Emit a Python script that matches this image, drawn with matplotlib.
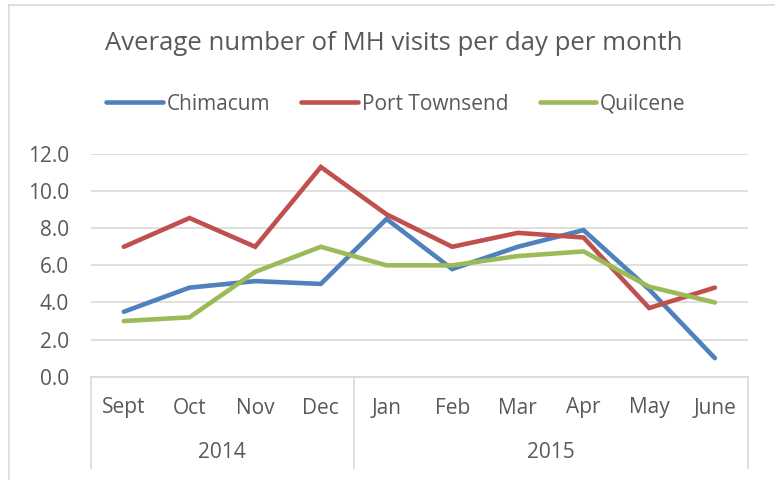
import matplotlib
matplotlib.use("Agg")
import matplotlib.pyplot as plt
from matplotlib.lines import Line2D
from matplotlib import transforms

months = ["Sept", "Oct", "Nov", "Dec", "Jan", "Feb", "Mar", "Apr", "May", "June"]
years = ["2014", "2015"]
year_spans = [(0, 3), (4, 9)]
chimacum = [3.5, 4.8, 5.15, 5.0, 8.5, 5.8, 7.0, 7.9, 4.7, 1.0]
port_townsend = [7.0, 8.55, 7.0, 11.3, 8.75, 7.0, 7.75, 7.5, 3.7, 4.8]
quilcene = [3.0, 3.2, 5.65, 7.0, 6.0, 6.0, 6.5, 6.75, 4.85, 4.0]
series_names = ["Chimacum", "Port Townsend", "Quilcene"]
series_colors = ["#4f81bd", "#c0504d", "#9bbb59"]
title = "Average number of MH visits per day per month"

plt.rcParams["font.family"] = ["Open Sans", "DejaVu Sans"]
TXT = "#595959"
GRID = "#d9d9d9"

W, H = 775, 480
fig = plt.figure(figsize=(W / 100, H / 100), dpi=100)
left, right, bottom, top = 91, 747.7, 376.7, 154
ax = fig.add_axes([left / W, 1 - bottom / H, (right - left) / W, (bottom - top) / H])

x = list(range(len(months)))
for vals, name, col in zip([chimacum, port_townsend, quilcene], series_names, series_colors):
    ax.plot(x, vals, color=col, lw=3.3, label=name, solid_joinstyle="miter", solid_capstyle="round")

ax.set_xlim(-0.5, len(months) - 0.5)
ax.set_ylim(0, 12)
ax.set_yticks([0, 2, 4, 6, 8, 10, 12])
ax.set_yticklabels([f"{v:.1f}" for v in [0, 2, 4, 6, 8, 10, 12]])
ax.tick_params(axis="y", length=0, pad=16, labelsize=15, labelcolor=TXT)
ax.set_xticks([])
ax.grid(axis="y", color=GRID, lw=1.2)
ax.set_axisbelow(True)
for s in ["left", "right", "top"]:
    ax.spines[s].set_visible(False)
ax.spines["bottom"].set_color(GRID)
ax.spines["bottom"].set_linewidth(1.2)

ah = bottom - top
trans = transforms.blended_transform_factory(ax.transData, ax.transAxes)
for i, m in enumerate(months):
    ax.text(i, (bottom - 408) / ah, m, transform=trans, ha="center", va="center",
            fontsize=15, color=TXT)
for yl, (a, b) in zip(years, year_spans):
    ax.text((a + b) / 2, (bottom - 453) / ah, yl, transform=trans, ha="center", va="center",
            fontsize=15, color=TXT)
sep_bot = (bottom - 468) / ah
for xs in [-0.5, 3.5, len(months) - 0.5]:
    ax.add_line(Line2D([xs, xs], [0, sep_bot], transform=trans, color=GRID, lw=1.2, clip_on=False))

fig.text(394 / W, 1 - 44 / H, title, ha="center", va="center", fontsize=18.5, color=TXT)

leg = fig.legend(loc="center", bbox_to_anchor=(396 / W, 1 - 104 / H), ncol=3, frameon=False,
                 fontsize=15, handlelength=2.7, handletextpad=0.2, columnspacing=1.5,
                 labelcolor=TXT)
for h in leg.legend_handles:
    h.set_linewidth(3.3)

# chart area border (left and top visible)
fig.add_artist(Line2D([8.5 / W, 8.5 / W], [0, 1 - 5 / H], transform=fig.transFigure, color=GRID, lw=1.2))
fig.add_artist(Line2D([8.5 / W, 1], [1 - 5 / H, 1 - 5 / H], transform=fig.transFigure, color=GRID, lw=1.2))

fig.savefig("out.png", dpi=100)
